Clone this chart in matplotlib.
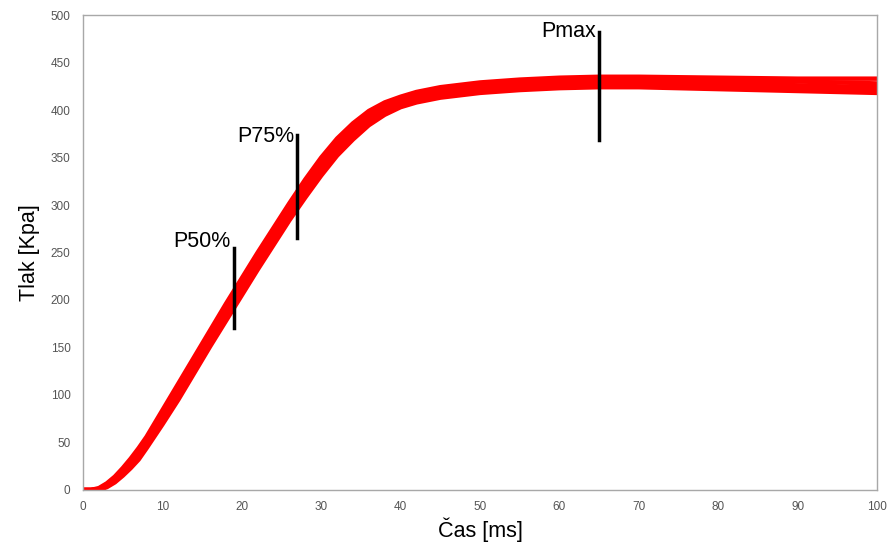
import matplotlib.pyplot as plt

plt.rcParams['font.family'] = ['Liberation Sans', 'DejaVu Sans']

t = [0, 1, 2, 3, 4, 5, 6, 7, 8, 10, 12, 14, 16, 18, 20, 22, 24, 26, 28, 30,
     32, 34, 36, 38, 40, 42, 45, 50, 55, 60, 65, 70, 80, 90, 100]

p_a = [0, 0, 2, 7, 14, 23, 33, 44, 56, 84, 112, 140, 168, 196, 223, 250, 276, 302, 327, 350,
       370, 386, 399, 408, 414, 419, 424, 429, 432, 434, 435, 435, 434, 433, 433]
p_b = [0, 0, 1, 6, 12, 21, 30, 41, 53, 80, 107, 135, 163, 191, 218, 245, 271, 297, 322, 345,
       365, 382, 395, 405, 412, 417, 422, 427, 430, 432, 433, 433, 431, 430, 428]
p_c = [0, 0, 1, 5, 11, 19, 28, 38, 50, 76, 103, 131, 159, 186, 213, 240, 266, 292, 317, 340,
       361, 378, 392, 402, 409, 414, 419, 424, 427, 429, 430, 430, 428, 426, 424]
p_d = [0, 0, 0, 4, 9, 17, 25, 35, 47, 72, 99, 127, 155, 182, 209, 236, 262, 288, 312, 335,
       356, 373, 388, 399, 406, 411, 416, 421, 424, 426, 427, 427, 425, 423, 421]
p_e = [0, 0, 0, 3, 8, 15, 23, 32, 44, 69, 95, 123, 151, 178, 205, 232, 258, 284, 308, 331,
       352, 369, 384, 395, 403, 408, 413, 418, 421, 423, 424, 424, 422, 420, 418]

# marker lines: label, time, bottom, top, text x, text y
marks = [("P50%", 19, 170, 255, 18.6, 250),
         ("P75%", 27, 265, 374, 26.6, 361),
         ("Pmax", 65, 368, 482, 64.6, 472)]

fig = plt.figure(figsize=(8.89, 5.44), dpi=100)
ax = fig.add_axes([0.0934, 0.0993, 0.8931, 0.8731])

for p in [p_a, p_b, p_c, p_d, p_e]:
    ax.plot(t, p, color="#ff0000", lw=3.2, solid_capstyle="round")

for label, x, y0, y1, tx, ty in marks:
    ax.plot([x, x], [y0, y1], color="black", lw=2.5)
    ax.text(tx, ty, label, ha="right", va="bottom", fontsize=15.5, color="black")

ax.set_xlim(0, 100)
ax.set_ylim(0, 500)
ax.set_xticks(range(0, 101, 10))
ax.set_yticks(range(0, 501, 50))
ax.tick_params(length=0, labelsize=8.5, labelcolor="#555555")
ax.tick_params(axis="x", pad=8)
ax.tick_params(axis="y", pad=9)
for s in ax.spines.values():
    s.set_color("#a8a8a8")
    s.set_linewidth(1)

ax.set_xlabel("Čas [ms]", fontsize=15.5, labelpad=3)
ax.set_ylabel("Tlak [Kpa]", fontsize=15.5, labelpad=8)

plt.savefig("out.png", dpi=100)
